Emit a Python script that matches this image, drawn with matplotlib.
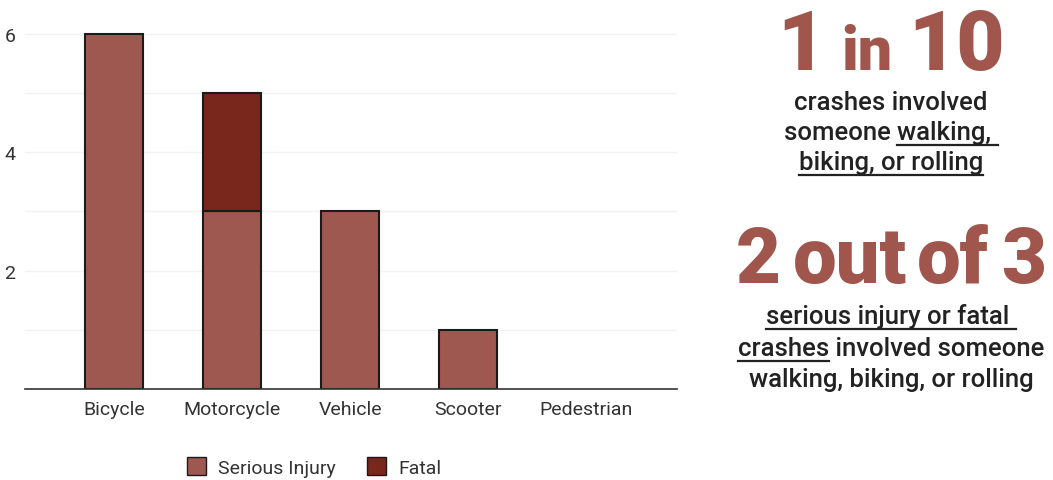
import matplotlib
matplotlib.use("Agg")
import matplotlib.pyplot as plt
from matplotlib.patches import Patch
from matplotlib.lines import Line2D

# data
modes = ["Bicycle", "Motorcycle", "Vehicle", "Scooter", "Pedestrian"]
serious_injury = [6, 3, 3, 1, 0]
fatal = [0, 2, 0, 0, 0]

SERIOUS_COLOR = "#9E5850"
FATAL_COLOR = "#79261C"
BIG_COLOR = "#A0564D"
TEXT_COLOR = "#222222"

W, H = 1053, 481
fig = plt.figure(figsize=(W / 100, H / 100), dpi=100)
ax = fig.add_axes([25 / W, 1 - 390 / H, (677 - 25) / W, (390 - 17) / H])

x = list(range(len(modes)))
si_x = [i for i in x if serious_injury[i] > 0]
ax.bar(si_x, [serious_injury[i] for i in si_x], width=0.49, color=SERIOUS_COLOR,
       edgecolor="#1a1a1a", linewidth=1.5)
fat_x = [i for i in x if fatal[i] > 0]
ax.bar(fat_x, [fatal[i] for i in fat_x], bottom=[serious_injury[i] for i in fat_x],
       width=0.49, color=FATAL_COLOR, edgecolor="#1a1a1a", linewidth=1.5)

ax.set_xlim(-0.754, 4.77)
ax.set_ylim(0, 6.3)
ax.set_yticks([2, 4, 6])
ax.set_yticks([1, 3, 5], minor=True)
ax.grid(axis="y", which="both", color="#f2f2f2", linewidth=1)
ax.set_axisbelow(True)
for s in ["left", "right", "top"]:
    ax.spines[s].set_visible(False)
ax.spines["bottom"].set_color("#333333")
ax.spines["bottom"].set_linewidth(1.2)
ax.set_xticks(x)
ax.set_xticklabels(modes)
ax.tick_params(axis="both", which="both", length=0, labelsize=14, colors="#333333", pad=8)
ax.tick_params(axis="y", pad=7)
for lab in ax.get_xticklabels() + ax.get_yticklabels():
    lab.set_fontfamily("Roboto")
    lab.set_fontweight("normal")

handles = [Patch(facecolor=SERIOUS_COLOR, edgecolor="#1a1a1a", label="Serious Injury"),
           Patch(facecolor=FATAL_COLOR, edgecolor="#1a1a1a", label="Fatal")]
fig.legend(handles=handles, loc="center", bbox_to_anchor=(314 / W, 1 - 468 / H), ncol=2,
           frameon=False, prop={"family": "Roboto", "size": 14},
           handlelength=1.0, handleheight=1.0, columnspacing=1.6, handletextpad=0.6,
           labelcolor="#333333")

fig.canvas.draw()
renderer = fig.canvas.get_renderer()


def seg_width(text, **kw):
    # width of a text piece in pixels, spaces included
    t1 = fig.text(0, 0, "|" + text + "|", **kw)
    t2 = fig.text(0, 0, "||", **kw)
    w = t1.get_window_extent(renderer).width - t2.get_window_extent(renderer).width
    t1.remove()
    t2.remove()
    return w


def text_line(cx, baseline, segments):
    # segments: (text, underline, style) or a number = pixel gap; centred at cx
    widths = [s if isinstance(s, (int, float)) else seg_width(s[0], **s[2]) for s in segments]
    left = cx - sum(widths) / 2
    for seg, w in zip(segments, widths):
        if not isinstance(seg, (int, float)):
            s, u, kw = seg
            fig.text(left / W, 1 - baseline / H, s, ha="left", va="baseline", **kw)
            if u:
                fig.add_artist(Line2D([left / W, (left + w) / W],
                                      [1 - (baseline + 6) / H] * 2,
                                      color=TEXT_COLOR, linewidth=1.6))
        left += w


big = {"family": "Roboto", "weight": "black", "color": BIG_COLOR, "size": 60}
big2 = {"family": "Roboto", "weight": "black", "color": BIG_COLOR, "size": 56}
mid = {"family": "Roboto", "weight": "black", "color": BIG_COLOR, "size": 44}
body = {"family": "Roboto", "weight": "medium", "color": TEXT_COLOR, "size": 18.5}

cx = 891
text_line(cx, 70, [("1", False, big), 16, ("in", False, mid), 16, ("10", False, big)])
text_line(cx, 110, [("crashes involved", False, body)])
text_line(cx, 140, [("someone ", False, body), ("walking, ", True, body)])
text_line(cx, 170, [("biking, or rolling", True, body)])

text_line(cx, 283, [("2", False, big2), 12, ("out", False, big2), 10,
                    ("of", False, big2), 12, ("3", False, big2)])
text_line(cx, 324, [("serious injury or fatal ", True, body)])
text_line(cx, 356, [("crashes", True, body), (" involved someone", False, body)])
text_line(cx, 387, [("walking, biking, or rolling", False, body)])

fig.savefig("out.png", dpi=100)
